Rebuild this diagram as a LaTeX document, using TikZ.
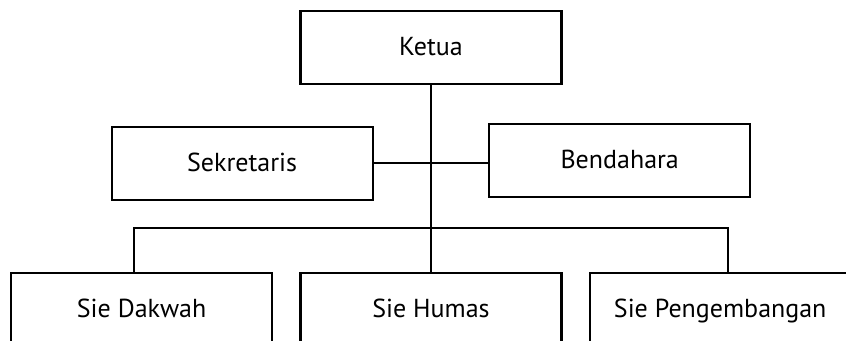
\documentclass[tikz,border=0pt]{standalone}
\usepackage{fontspec}
\setmainfont{PT Sans}
\begin{document}
\begin{tikzpicture}[x=0.5pt,y=-0.5pt,
  box/.style={draw=black, line width=1.1pt, minimum width=130.5pt, minimum height=36.5pt,
    inner sep=0pt, text height=0.8em, text depth=0pt,
    font=\fontsize{13}{15}\selectfont},
  link/.style={line width=1.1pt, draw=black}]
\useasboundingbox (0,0) rectangle (846,341);
\clip (0,0) rectangle (846,341);
\node[box] (ketua) at (431,47.5) {Ketua};
\node[box] (sek) at (242.1,163.2) {Sekretaris};
\node[box] (ben) at (619.7,160.5) {Bendahara};
\node[box] (dakwah) at (141.6,309.8) {Sie Dakwah};
\node[box] (humas) at (431,309.8) {Sie Humas};
\node[box] (peng) at (720.2,309.8) {Sie Pengembangan};
\coordinate (bl) at (133.8,228.3);
\coordinate (br) at (728,228.3);
\draw[link] (ketua.south) -- (humas.north);
\draw[link] (sek.east) -- (sek.east -| ben.west);
\draw[link] (bl |- dakwah.north) -- (bl) -- (br) -- (br |- peng.north);
\end{tikzpicture}
\end{document}
